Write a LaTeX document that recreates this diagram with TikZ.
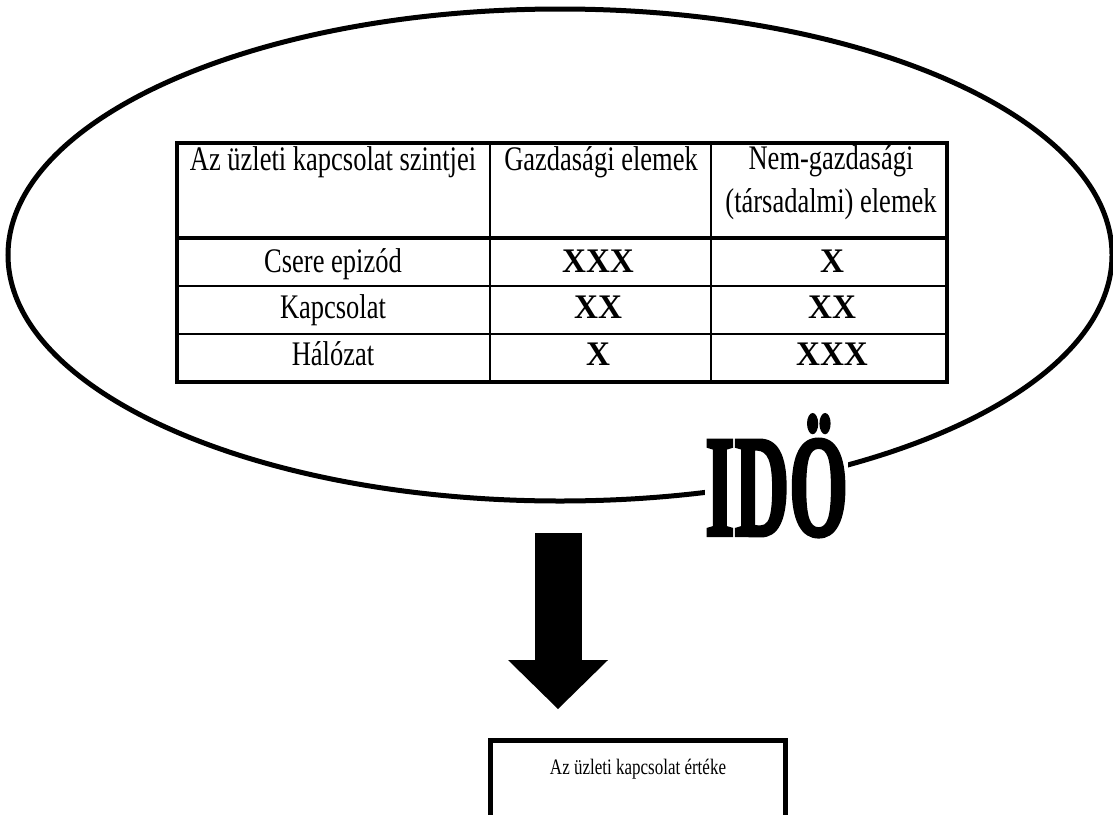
\documentclass[tikz,border=0pt]{standalone}
\usepackage{fontspec}
\setmainfont{Liberation Serif}
\newfontfamily\idofont{Liberation Serif Bold}[FakeBold=3]
\usepackage{graphicx}
\usetikzlibrary{positioning,arrows.meta}

\newcommand{\tall}[1]{\scalebox{1}[1.3]{#1}}
\newcommand{\wide}[1]{\scalebox{1.25}[1.3]{#1}}

\tikzset{
  cell/.style={anchor=base, inner sep=0pt, font=\fontsize{26.5}{26.5}\selectfont},
  xcell/.style={cell, font=\fontsize{26.5}{26.5}\selectfont\bfseries},
  thickrule/.style={line width=4pt},
  thinrule/.style={line width=2pt},
  valbox/.style={draw, line width=5pt, inner xsep=0pt, inner ysep=0pt,
    minimum width=295pt, text height=34pt, text depth=56pt,
    font=\fontsize{17}{17}\selectfont}
}

\begin{document}
\begin{tikzpicture}[x=1pt, y=-1pt, >=Stealth]
  \useasboundingbox (0,0) rectangle (1113,814);

  % ellipse around the table
  \draw[line width=5pt] (560,255) ellipse [x radius=552, y radius=246];

  % table rules
  \draw[thickrule] (177,143) rectangle (947,382);
  \draw[thickrule] (177,238) -- (947,238);
  \draw[thinrule] (177,286) -- (947,286) (177,334) -- (947,334);
  \draw[thinrule] (490,143) -- (490,382) (711,143) -- (711,382);

  % header
  \node[cell] (lvl) at (333,170) {\tall{Az üzleti kapcsolat szintjei}};
  \node[cell] (econ) at (601,170) {\tall{Gazdasági elemek}};
  \node[cell] (soca) at (831,169) {\tall{Nem-gazdasági}};
  \node[cell] (socb) at (831,212) {\tall{(társadalmi) elemek}};

  % rows
  \node[cell] (csere) at (333,272) {\tall{Csere epizód}};
  \node[xcell] (csereg) at (598,272) {\wide{XXX}};
  \node[xcell] (cseres) at (832,272) {\wide{X}};
  \node[cell] (kapcs) at (333,318) {\tall{Kapcsolat}};
  \node[xcell] (kapcsg) at (598,318) {\wide{XX}};
  \node[xcell] (kapcss) at (832,318) {\wide{XX}};
  \node[cell] (halo) at (333,365) {\tall{Hálózat}};
  \node[xcell] (halog) at (598,365) {\wide{X}};
  \node[xcell] (halos) at (832,365) {\wide{XXX}};

  % time label on the ellipse
  \node[anchor=base west, inner sep=0pt, fill=white] (ido) at (705,535)
    {\fontsize{72}{72}\idofont\scalebox{1.05}[2]{IDÖ}};

  % value box and arrow
  \node[valbox, anchor=north] (value) at (638,738) {\tall{Az üzleti kapcsolat értéke}};
  \coordinate (arrtop) at (558,533);
  \draw[line width=47pt, shorten >=29pt,
    -{Triangle[length=49pt, width=100pt, line width=0pt]}]
    (arrtop) -- (arrtop |- value.north);
\end{tikzpicture}
\end{document}
